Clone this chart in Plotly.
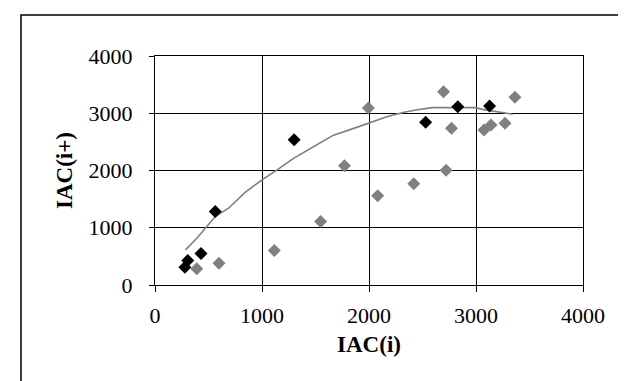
import plotly.graph_objects as go

# Series A (black diamonds)
black_x = [279, 306, 430, 563, 1300, 2529, 2830, 3127]
black_y = [312, 428, 549, 1283, 2537, 2844, 3115, 3127]

# Series B (gray diamonds)
gray_x = [390, 598, 1115, 1548, 1771, 1994, 2081, 2418, 2697, 2721, 2771, 3075, 3140, 3271, 3364]
gray_y = [283, 381, 601, 1110, 2081, 3092, 1561, 1769, 3376, 2006, 2740, 2708, 2795, 2824, 3279]

# Trend line (gray)
trend_x = [285, 393, 563, 687, 842, 997, 1152, 1291, 1461, 1663, 1864, 2019, 2173, 2328, 2437, 2591, 2824, 2994, 3071, 3257, 3344]
trend_y = [613, 821, 1196, 1341, 1618, 1832, 2023, 2208, 2393, 2613, 2740, 2844, 2942, 3017, 3058, 3098, 3098, 3098, 3063, 3017, 2983]

x_ticks = [0, 1000, 2000, 3000, 4000]
y_ticks = [0, 1000, 2000, 3000, 4000]

FONT = "Liberation Serif, Times New Roman, serif"

fig = go.Figure()
fig.add_trace(go.Scatter(x=trend_x, y=trend_y, mode="lines",
                         line=dict(color="#808080", width=1.6), showlegend=False))
fig.add_trace(go.Scatter(x=gray_x, y=gray_y, mode="markers",
                         marker=dict(symbol="diamond", size=10, color="#808080", line=dict(width=0)),
                         showlegend=False))
fig.add_trace(go.Scatter(x=black_x, y=black_y, mode="markers",
                         marker=dict(symbol="diamond", size=10, color="#000000", line=dict(width=0)),
                         showlegend=False))

L, R, T, B = 147, 51, 48, 104
W, H = 626, 381
pw, ph = W - L - R, H - T - B

def px_x(p):
    return (p - L) / pw

def px_y(p):
    return (H - B - p) / ph

fig.update_layout(
    width=W, height=H,
    margin=dict(l=L, r=R, t=T, b=B),
    paper_bgcolor="white", plot_bgcolor="white",
    font=dict(family=FONT, size=22, color="black"),
    xaxis=dict(range=[0, 4000], tickvals=x_ticks, ticktext=[str(v) for v in x_ticks],
               showgrid=True, gridcolor="black", gridwidth=1,
               showline=True, linecolor="black", linewidth=1, mirror=True,
               ticks="outside", ticklen=6, tickcolor="black",
               zeroline=False, ticklabelstandoff=5,
               title=dict(text="<b>IAC(i)</b>", font=dict(family=FONT, size=23), standoff=8)),
    yaxis=dict(range=[0, 4000], tickvals=y_ticks, ticktext=[str(v) for v in y_ticks],
               showgrid=True, gridcolor="black", gridwidth=1,
               showline=True, linecolor="black", linewidth=1, mirror=True,
               ticks="outside", ticklen=5, tickcolor="black",
               zeroline=False, ticklabelstandoff=12,
               title=dict(text="<b>IAC(i+)</b>", font=dict(family=FONT, size=23), standoff=9)),
    shapes=[dict(type="rect", xref="paper", yref="paper",
                 x0=px_x(13), x1=px_x(622), y0=px_y(395), y1=px_y(7),
                 line=dict(color="black", width=1.5), fillcolor="rgba(0,0,0,0)", layer="below")],
)

fig.write_html("out.html")
